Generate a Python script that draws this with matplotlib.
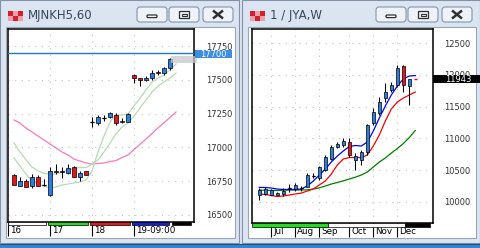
import matplotlib
matplotlib.use('Agg')
import matplotlib.pyplot as plt
import numpy as np
from matplotlib.patches import Rectangle, FancyBboxPatch
from matplotlib.transforms import blended_transform_factory

W, H = 480, 248

# MJNKH5,60 - hourly bars
h_open = [16798, 16717, 16752, 16712, 16783, 16720, 16650, 16828, 16824, 16813,
          16857, 16783, 16823, 17190, 17178, 17215, 17223, 17240, 17186, 17190,
          17536, 17511, 17500, 17511, 17556, 17548, 17585]
h_close = [16724, 16749, 16707, 16783, 16717, 16720, 16828, 16818, 16816, 16848,
           16783, 16813, 16798, 17190, 17227, 17215, 17257, 17183, 17198, 17245,
           17511, 17500, 17511, 17553, 17548, 17585, 17652]
h_high = [16805, 16780, 16765, 16805, 16798, 16766, 16853, 16877, 16853, 16877,
          16865, 16828, 16826, 17227, 17240, 17240, 17265, 17257, 17215, 17252,
          17543, 17513, 17525, 17572, 17572, 17597, 17660]
h_low = [16720, 16712, 16705, 16702, 16714, 16717, 16643, 16803, 16774, 16803,
         16779, 16754, 16795, 17153, 17166, 17198, 17218, 17166, 17183, 17185,
         17479, 17454, 17488, 17499, 17535, 17535, 17575]
h_ma_fast = [16922, 16862, 16803, 16752, 16729, 16715, 16700, 16707, 16722, 16729,
             16737, 16744, 16759, 16826, 16966, 17084, 17188, 17240, 17240, 17247,
             17306, 17365, 17425, 17484, 17513, 17536, 17572, 17617]
h_ma_slow = [17033, 16966, 16907, 16855, 16826, 16807, 16800, 16803, 16818, 16833,
             16844, 16851, 16851, 16877, 16907, 16966, 17033, 17099, 17151, 17180,
             17232, 17291, 17351, 17410, 17454, 17484, 17513, 17550]
h_ma_long = [17203, 17180, 17143, 17114, 17084, 17055, 17025, 16996, 16966, 16944,
             16914, 16899, 16885, 16877, 16881, 16885, 16895, 16903, 16925, 16944,
             16984, 17023, 17062, 17103, 17144, 17182, 17222, 17262]
h_days = ['16', '17', '18', '19-09:00']
h_day_start = [-1, 6, 13, 20]
h_day_colors = ['white', '#22dd22', '#e81818', '#1a1ae0']
h_yticks = [16500, 16750, 17000, 17250, 17500, 17750]
h_last = 17700

# 1 / JYA,W - weekly bars
w_open = [10110, 10125, 10110, 10106, 10120, 10210, 10200, 10216, 10240, 10405,
          10370, 10500, 10680, 10870, 10895, 10945, 10660, 10660, 10790, 11240,
          11395, 11632, 11763, 11842, 12140, 11820]
w_close = [10185, 10195, 10180, 10140, 10175, 10210, 10265, 10216, 10420, 10405,
           10545, 10710, 10860, 10905, 10965, 10740, 10720, 10790, 11210, 11420,
           11580, 11736, 11842, 12105, 11842, 11943]
w_high = [10210, 10235, 10200, 10150, 10215, 10279, 10290, 10245, 10460, 10448,
          10570, 10737, 10890, 10940, 11005, 11000, 10770, 10816, 11230, 11480,
          11660, 11880, 11890, 12157, 12160, 11943]
w_low = [10030, 10105, 10100, 10100, 10090, 10158, 10174, 10170, 10225, 10369,
         10350, 10484, 10660, 10850, 10870, 10710, 10500, 10579, 10740, 11210,
         11370, 11580, 11736, 11815, 11736, 11530]
w_ma_blue = [10227, 10224, 10216, 10200, 10193, 10193, 10193, 10200, 10248, 10327,
             10421, 10516, 10626, 10721, 10800, 10871, 10887, 10879, 10942, 11116,
             11321, 11510, 11684, 11826, 11936, 11984, 11991]
w_ma_red = [10122, 10114, 10098, 10082, 10090, 10106, 10122, 10137, 10169, 10200,
            10264, 10327, 10437, 10579, 10674, 10697, 10697, 10697, 10737, 10879,
            11053, 11273, 11463, 11573, 11636, 11684, 11731]
w_ma_green = [10185, 10180, 10177, 10177, 10181, 10185, 10185, 10185, 10188, 10200,
              10219, 10248, 10279, 10303, 10330, 10358, 10387, 10421, 10469, 10548,
              10626, 10690, 10768, 10839, 10918, 11013, 11124]
w_months = ['Jul', 'Aug', 'Sep', 'Oct', 'Nov', 'Dec']
w_month_start = [2, 6, 10, 15, 19, 23]
w_bands = [(-1.2, 11.45, '#22dd22'), (11.45, 24.3, 'white'), (24.3, 28.45, 'black')]
w_yticks = [10000, 10500, 11000, 11500, 12000, 12500]
w_last = 11943

UP = '#2a7de1'
DOWN = '#e8141c'
FRAME = '#dbe5f1'
TITLE = '#36465a'


def px_axes(fig, x0, y0, x1, y1):
    return fig.add_axes([x0 / W, 1 - y1 / H, (x1 - x0) / W, (y1 - y0) / H])


def button(ax, x, y, kind):
    ax.add_patch(FancyBboxPatch((x, y), 30, 15, boxstyle='round,pad=0,rounding_size=3',
                                fc='#eef3f9', ec='#8494aa', lw=0.8))
    cx, cy = x + 15, y + 7.5
    if kind == 'min':
        ax.add_patch(FancyBboxPatch((cx - 5, cy + 0.5), 10, 2.6,
                                    boxstyle='round,pad=0,rounding_size=1',
                                    fc='white', ec='#303030', lw=0.9))
    elif kind == 'max':
        ax.add_patch(Rectangle((cx - 5, cy - 3.5), 10, 7, fc='none', ec='#303030', lw=0.9))
        ax.add_patch(Rectangle((cx - 2.5, cy - 1), 5, 2.5, fc='none', ec='#303030', lw=0.8))
    else:
        ax.plot([cx - 5, cx + 5], [cy - 4, cy + 4], color='#303030', lw=1.8,
                solid_capstyle='butt')
        ax.plot([cx - 5, cx + 5], [cy + 4, cy - 4], color='#303030', lw=1.8,
                solid_capstyle='butt')


def window(ax, x0, x1, title, btn_x):
    ax.add_patch(Rectangle((x0, 0), x1 - x0, 243, fc=FRAME, ec='#8392a6', lw=0.8))
    ax.add_patch(Rectangle((x0 + 6, 27), x1 - x0 - 10, 211, fc='white', ec='#9aa6b6', lw=0.8))
    # icon
    for i in range(3):
        for j in range(2):
            c = '#d22030' if (i + j) % 2 == 0 else '#f0a0a8'
            ax.add_patch(Rectangle((x0 + 8 + i * 5, 11 + j * 5), 4.5, 4.5, fc=c, ec='none'))
    ax.text(x0 + 28, 16, title, fontsize=8.5, color=TITLE, va='center', ha='left')
    for bx, kind in zip(btn_x, ['min', 'max', 'close']):
        button(ax, bx, 7, kind)


def candles(ax, o, c, hi, lo, width):
    o, c = np.array(o), np.array(c)
    x = np.arange(len(o))
    ax.vlines(x, lo, hi, color='black', lw=0.75, zorder=3)
    col = np.where(c > o, UP, np.where(c < o, DOWN, 'black'))
    body = np.abs(c - o)
    ax.bar(x, body, width, bottom=np.minimum(o, c), color=col, edgecolor='black',
           lw=0.5, zorder=4)
    doji = body == 0
    ax.hlines(o[doji], x[doji] - width / 2, x[doji] + width / 2, color='black',
              lw=0.9, zorder=4)


def style_chart(ax, yticks, pad, xt):
    for s in ax.spines.values():
        s.set_color('black')
        s.set_linewidth(1.1)
    ax.yaxis.tick_right()
    ax.set_yticks(yticks)
    ax.tick_params(axis='y', length=0, pad=pad, labelsize=6, labelcolor='#333333')
    ax.set_xticks(xt)
    ax.tick_params(axis='x', direction='out', length=10, width=0.8, labelbottom=False)
    ax.grid(True, color='#c4c4c4', linestyle=(0, (1, 5)), lw=0.8)
    ax.set_axisbelow(True)


fig = plt.figure(figsize=(4.8, 2.48), dpi=100)
fig.patch.set_facecolor(FRAME)

bg = fig.add_axes([0, 0, 1, 1])
bg.set_xlim(0, W)
bg.set_ylim(H, 0)
bg.axis('off')

window(bg, 0, 239, 'MJNKH5,60', [137, 169, 203])
window(bg, 242, 480, '1 / JYA,W', [376, 408, 442])
bg.add_patch(Rectangle((0, 243.5), W, 5, fc='#2b87df', ec='none'))
bg.plot([0, W], [243.5, 243.5], color='#3a4a60', lw=0.8)

# left chart: hourly
ax1 = px_axes(fig, 8, 29, 194, 222)
ax1.set_xlim(-1, 30)
ax1.set_ylim(16448, 17876)
style_chart(ax1, h_yticks, 8.6, h_day_start)
xm = np.arange(len(h_ma_fast))
ax1.plot(xm, h_ma_long, color='#ff77bb', lw=0.9, zorder=2)
ax1.plot(xm, h_ma_slow, color='#b4dcb4', lw=0.9, zorder=2)
ax1.plot(xm, h_ma_fast, color='#b4dcb4', lw=0.9, zorder=2)
candles(ax1, h_open, h_close, h_high, h_low, 0.6)
ax1.axhline(h_last, color='#1f78d8', lw=1.0, zorder=5)
ax1.add_patch(Rectangle((26.1, 17625), 4.4, 50, fc='#c8c8c8', ec='none', alpha=0.75,
                        clip_on=False, zorder=5))
tr1 = blended_transform_factory(ax1.transAxes, ax1.transData)
ax1.add_patch(Rectangle((1.006, h_last - 38), 0.2, 58, transform=tr1, fc='#3a8ee6',
                        ec='none', clip_on=False, zorder=6))
ax1.text(1.106, h_last - 9, f'{h_last}', transform=tr1, fontsize=6, color='white',
         ha='center', va='center', zorder=7)

bx1 = blended_transform_factory(ax1.transData, ax1.transAxes)
starts = h_day_start + [26.5]
for k, col in enumerate(h_day_colors):
    a = starts[k] - 0.33 if k else starts[k]
    b = starts[k + 1] - 0.67
    ax1.add_patch(Rectangle((a, -3 / 193), b - a, 3 / 193, transform=bx1, fc=col,
                            ec='black', lw=0.5, clip_on=False, zorder=6))
ax1.add_patch(Rectangle((26.33, -3 / 193), 3.17, 3 / 193, transform=bx1, fc='black',
                        ec='black', lw=0.5, clip_on=False, zorder=6))
for d, s in zip(h_days, h_day_start):
    ax1.text(s + 0.3, -8.5 / 193, d, transform=bx1, fontsize=6.3, color='black',
             ha='left', va='center')

# right chart: weekly
ax2 = px_axes(fig, 251.7, 29, 433, 223)
ax2.set_xlim(-1.27, 28.95)
ax2.set_ylim(9664, 12726)
style_chart(ax2, w_yticks, 7.9, w_month_start)
xw = np.arange(len(w_ma_blue))
ax2.plot(xw, w_ma_green, color='#008000', lw=0.9, zorder=2)
ax2.plot(xw, w_ma_red, color='#ff0000', lw=0.9, zorder=2)
ax2.plot(xw, w_ma_blue, color='#0000ff', lw=0.9, zorder=2)
candles(ax2, w_open, w_close, w_high, w_low, 0.52)
ax2.hlines(w_last, len(w_close) - 0.3, len(w_close) + 0.3, color='#ff0000', lw=1.0, zorder=5)
tr2 = blended_transform_factory(ax2.transAxes, ax2.transData)
ax2.add_patch(Rectangle((1.0, w_last - 75), 0.26, 135, transform=tr2, fc='black',
                        ec='none', clip_on=False, zorder=6))
ax2.text(1.141, w_last - 8, f'{w_last}', transform=tr2, fontsize=6, color='white',
         ha='center', va='center', zorder=7)

bx2 = blended_transform_factory(ax2.transData, ax2.transAxes)
for a, b, col in w_bands:
    ax2.add_patch(Rectangle((a, -3.5 / 194), b - a, 3.5 / 194, transform=bx2, fc=col,
                            ec='black', lw=0.5, clip_on=False, zorder=6))
for m, s in zip(w_months, w_month_start):
    ax2.text(s + 0.3, -8 / 194, m, transform=bx2, fontsize=6.3, color='black',
             ha='left', va='center')

plt.savefig('out.png', dpi=100, facecolor=fig.get_facecolor())
